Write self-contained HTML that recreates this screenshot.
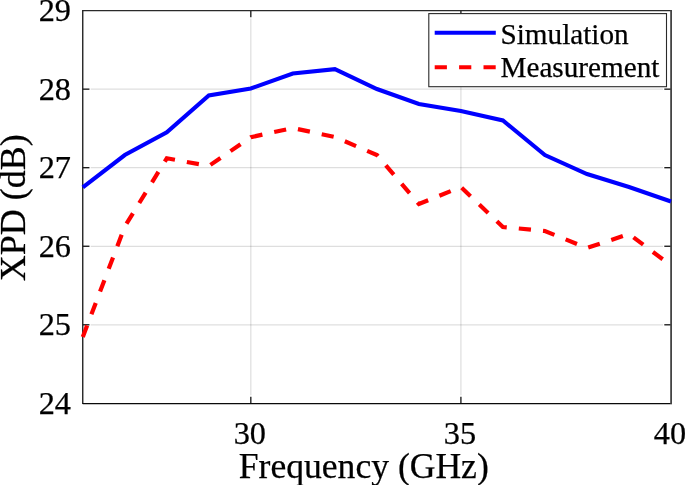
<!DOCTYPE html>
<html><head><meta charset="utf-8"><title>XPD</title>
<style>
html,body{margin:0;padding:0;background:#fff;overflow:hidden}
svg{display:block;font-family:"Liberation Serif",serif;fill:#000}
text{stroke:#000;stroke-width:0.25px}
.g{stroke:#000;stroke-opacity:0.13;stroke-width:1.25}
.t{stroke:#111;stroke-width:1.3}
.tk{font-size:32.3px}
.lg{font-size:29.2px}
</style></head><body>
<svg width="685" height="485" viewBox="0 0 685 485">
<rect width="685" height="485" fill="#fff"/>
<line x1="250.82" x2="250.82" y1="18.6" y2="395.35" class="g"/><line x1="460.91" x2="460.91" y1="18.6" y2="395.35" class="g"/><line x1="90.75" x2="663.0" y1="324.80" y2="324.80" class="g"/><line x1="90.75" x2="663.0" y1="246.25" y2="246.25" class="g"/><line x1="90.75" x2="663.0" y1="167.70" y2="167.70" class="g"/><line x1="90.75" x2="663.0" y1="89.15" y2="89.15" class="g"/>
<line x1="250.82" x2="250.82" y1="403.35" y2="396.65" class="t"/><line x1="250.82" x2="250.82" y1="10.6" y2="17.3" class="t"/><line x1="460.91" x2="460.91" y1="403.35" y2="396.65" class="t"/><line x1="460.91" x2="460.91" y1="10.6" y2="17.3" class="t"/><line x1="82.75" x2="89.45" y1="324.80" y2="324.80" class="t"/><line x1="671.0" x2="664.3" y1="324.80" y2="324.80" class="t"/><line x1="82.75" x2="89.45" y1="246.25" y2="246.25" class="t"/><line x1="671.0" x2="664.3" y1="246.25" y2="246.25" class="t"/><line x1="82.75" x2="89.45" y1="167.70" y2="167.70" class="t"/><line x1="671.0" x2="664.3" y1="167.70" y2="167.70" class="t"/><line x1="82.75" x2="89.45" y1="89.15" y2="89.15" class="t"/><line x1="671.0" x2="664.3" y1="89.15" y2="89.15" class="t"/>
<line x1="82.75" x2="82.75" y1="10.0" y2="404.05" stroke="#1c1c1c" stroke-width="1.35"/>
<line x1="82.75" x2="671.0" y1="10.6" y2="10.6" stroke="#2a2a2a" stroke-width="1.2"/>
<line x1="82.75" x2="672.0" y1="403.65000000000003" y2="403.65000000000003" stroke="#0a0a0a" stroke-width="1.4"/>
<line x1="671.1" x2="671.1" y1="10.0" y2="404.05" stroke="#444" stroke-width="1.8"/>
<polyline points="82.8,337.0 124.8,226.5 166.8,158.3 208.8,166.0 250.8,137.2 292.8,128.0 334.9,137.0 376.9,155.0 418.9,204.0 460.9,187.0 502.9,227.0 544.9,231.0 587.0,248.0 629.0,234.0 671.0,265.5" fill="none" stroke="#ff0000" stroke-width="4.2" stroke-dasharray="12.2 12.1" stroke-linejoin="miter"/>
<polyline points="82.8,187.3 124.8,155.0 166.8,132.3 208.8,95.5 250.8,88.5 292.8,73.5 334.9,69.2 376.9,89.0 418.9,104.0 460.9,111.0 502.9,120.5 544.9,155.0 587.0,174.0 629.0,187.0 671.0,201.5" fill="none" stroke="#0000ff" stroke-width="4.1" stroke-linejoin="miter"/>
<text x="249.8" y="443.8" text-anchor="middle" class="tk">30</text><text x="459.9" y="443.8" text-anchor="middle" class="tk">35</text><text x="670.0" y="443.8" text-anchor="middle" class="tk">40</text><text x="71" y="413.7" text-anchor="end" class="tk">24</text><text x="71" y="335.1" text-anchor="end" class="tk">25</text><text x="71" y="256.6" text-anchor="end" class="tk">26</text><text x="71" y="178.0" text-anchor="end" class="tk">27</text><text x="71" y="99.5" text-anchor="end" class="tk">28</text><text x="71" y="20.9" text-anchor="end" class="tk">29</text>
<text x="363.8" y="478" text-anchor="middle" font-size="35.6">Frequency (GHz)</text>
<text transform="translate(24.8,207.7) rotate(-90)" text-anchor="middle" font-size="36">XPD (dB)</text>
<rect x="428.8" y="13.6" width="237.7" height="73.1" fill="#fff" stroke="#2a2a2a" stroke-width="1.1"/>
<line x1="434.7" x2="495.8" y1="32.8" y2="32.8" stroke="#0000ff" stroke-width="4.1"/>
<line x1="434.7" x2="495.8" y1="67.3" y2="67.3" stroke="#ff0000" stroke-width="4.1" stroke-dasharray="12.2 12.2"/>
<text x="500.5" y="43.5" class="lg">Simulation</text>
<text x="500.5" y="76.7" class="lg">Measurement</text>
</svg>
</body></html>
